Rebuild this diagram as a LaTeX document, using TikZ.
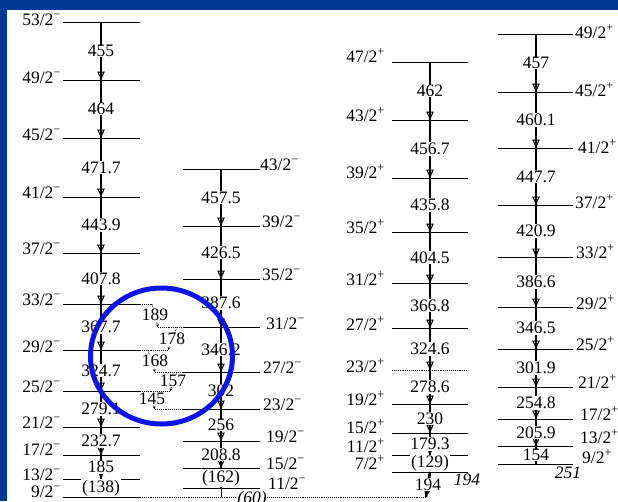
\documentclass[tikz,border=0pt]{standalone}
\usepackage{fontspec}
\setmainfont{Liberation Serif}
\usetikzlibrary{arrows.meta}
\definecolor{frameblue}{RGB}{0,56,150}
\definecolor{ringblue}{RGB}{10,20,235}
\newcommand\lblfont{\fontsize{17.5}{20}\selectfont}
\begin{document}
\begin{tikzpicture}[x=1pt,y=-1pt,
  every node/.style={font=\lblfont, inner sep=0pt},
  lvl/.style={line width=0.9pt},
  ext/.style={line width=0.9pt, densely dotted},
  trans/.style={line width=2.3pt, -{Triangle[open,width=7.5pt,length=8.5pt,line width=1.1pt]}, postaction={draw,-,line width=2.3pt}},
  xtrans/.style={line width=0.8pt, densely dotted, -{Stealth[length=3pt,width=3pt]}},
  gam/.style={fill=white, inner sep=0.6pt},
  itl/.style={font=\lblfont\itshape}
]
\useasboundingbox (0,0) rectangle (618,501);
\fill[frameblue] (0,0) rectangle (618,501);
\fill[white] (7,10) rectangle (618,501);

% ---- column 1 (negative parity, left labels)
\foreach \s/\y/\by in {53/22/25, 49/80/83, 45/138/140, 41/197/198, 37/253/254, 33/304/305, 29/350/352, 25/391/392, 21/427/428, 17/455/455, 13/479/480, 9/497/497} {
  \draw[lvl] (63,\y) -- (140,\y);
  \coordinate (a\s) at (101,\y);
  \node[anchor=base east] (la\s) at (61,\by) {\s/2\textsuperscript{−}};
}
% ---- column 2
\foreach \s/\y/\lx/\by in {43/169/260/170, 39/226/262/227, 35/279/262/280, 31/327/266/329, 27/372/263/373, 23/409/263/410, 19/441/266/442, 15/468/266/469, 11/488/268/489} {
  \draw[lvl] (183,\y) -- (260,\y);
  \coordinate (b\s) at (221,\y);
  \node[anchor=base west] (lb\s) at (\lx,\by) {\s/2\textsuperscript{−}};
}
% ---- column 3
\foreach \s/\y/\by in {47/62/62, 43/120/121, 39/178/178, 35/232/233, 31/283/285, 27/328/330, 19/404/405, 15/433/433, 11/455/452, 7/472/469} {
  \draw[lvl] (392,\y) -- (468,\y);
  \coordinate (c\s) at (430,\y);
  \node[anchor=base east] (lc\s) at (385,\by) {\s/2\textsuperscript{+}};
}
\draw[ext] (392,370) -- (468,370);
\coordinate (c23) at (430,370);
\node[anchor=base east] (lc23) at (385,372) {23/2\textsuperscript{+}};
% ---- column 4
\foreach \s/\y/\lx/\by in {49/34/575/38, 45/92/575/96, 41/148/578/153, 37/205/575/208, 33/257/576/258, 29/307/576/309, 25/349/576/350, 21/387/578/388, 17/419/580/420, 13/446/580/443, 9/464/582/463} {
  \draw[lvl] (498,\y) -- (573,\y);
  \coordinate (d\s) at (536,\y);
  \node[anchor=base west] (ld\s) at (\lx,\by) {\s/2\textsuperscript{+}};
}

% ---- in-band transitions
\foreach \u/\l/\e in {53/49/455, 49/45/464, 45/41/471.7, 41/37/443.9, 37/33/407.8, 33/29/367.7, 29/25/324.7, 25/21/279.1, 21/17/232.7, 17/13/185, 13/9/(138)}
  \draw[trans] (a\u) -- (a\l) node[midway,gam] {\e};
\foreach \u/\l/\e in {43/39/457.5, 39/35/426.5, 35/31/387.6, 31/27/346.2, 27/23/302, 23/19/256, 19/15/208.8, 15/11/(162)}
  \draw[trans] (b\u) -- (b\l) node[midway,gam] {\e};
\foreach \u/\l/\e in {47/43/462, 43/39/456.7, 39/35/435.8, 35/31/404.5, 31/27/366.8, 27/23/324.6, 23/19/278.6, 19/15/230, 15/11/179.3, 11/7/(129)}
  \draw[trans] (c\u) -- (c\l) node[midway,gam] {\e};
\foreach \u/\l/\e in {49/45/457, 45/41/460.1, 41/37/447.7, 37/33/420.9, 33/29/386.6, 29/25/346.5, 25/21/301.9, 21/17/254.8, 17/13/205.9, 13/9/154}
  \draw[trans] (d\u) -- (d\l) node[midway,gam] {\e};

% ---- linking transitions between the two negative-parity bands
\coordinate (e33) at (152,304);
\coordinate (e31) at (158,327);
\coordinate (f31) at (177,327);
\coordinate (e29) at (168,350);
\coordinate (f29) at (148,350);
\coordinate (e27) at (155,372);
\coordinate (f27) at (177,372);
\coordinate (e25) at (170,391);
\coordinate (f25) at (148,391);
\coordinate (e23) at (155,409);
\draw[ext] (140,304) -- (e33);
\draw[ext] (e31) -- (183,327);
\draw[ext] (140,350) -- (e29);
\draw[ext] (e27) -- (183,372);
\draw[ext] (140,391) -- (e25);
\draw[ext] (e23) -- (183,409);
\draw[xtrans] (e33) -- (e31);
\draw[xtrans] (f31) -- (e29);
\draw[xtrans] (f29) -- (e27);
\draw[xtrans] (f27) -- (e25);
\draw[xtrans] (f25) -- (e23);
\node[gam] (g189) at (155,315) {189};
\node[gam] (g178) at (172,339) {178};
\node[gam] (g168) at (155,361) {168};
\node[gam] (g157) at (173,381) {157};
\node[gam] (g145) at (152,399) {145};

% ---- bottom: 9/2- extension, 194 and (60)
\coordinate (a9e) at (426,497);
\draw[ext] (140,497) -- (a9e);
\draw[trans] (c7) -- (a9e) node[midway,gam] {194};
\coordinate (b9) at (221,497);
\draw[line width=1pt] (b11) -- (b9);
\node[itl,gam] (g60) at (252,499) {(60)};
\node[itl] (h194) at (467,480) {194};
\node[itl] (h251) at (568,473) {251};

% ---- highlight ring
\draw[ringblue, line width=5pt] (161.5,356) ellipse [x radius=71pt, y radius=68pt];
\end{tikzpicture}
\end{document}
